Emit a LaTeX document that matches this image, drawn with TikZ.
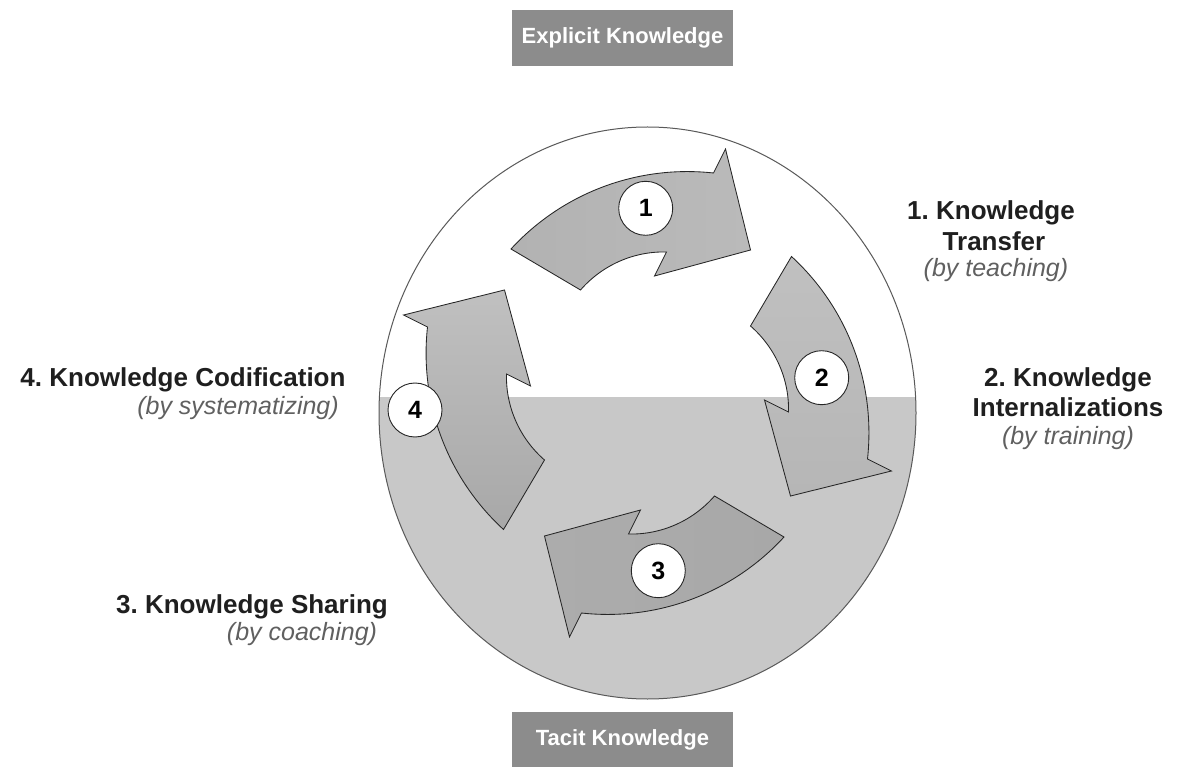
\documentclass[tikz,border=0pt]{standalone}
\usepackage{fontspec}
\setmainfont{Liberation Sans}
\frenchspacing
\definecolor{bggray}{HTML}{C8C8C8}
\definecolor{boxgray}{HTML}{8C8C8C}
\definecolor{subgray}{HTML}{606060}
\newcommand\cyclearrow[2]{%
  \begin{scope}[shift={(647.5,393)}, rotate=#1]
    \path[arrowshape, #2] (-136.5,-144) .. controls (-84.9,-200.2) and (-9.9,-228.3) .. (66,-220)
      -- (78,-244) -- (103,-143) -- (7,-117) -- (19,-141)
      .. controls (-13.9,-141.9) and (-45.4,-127.8) .. (-67,-103) -- cycle;
  \end{scope}}
\tikzset{
  arrowshape/.style={draw=black!85, line width=0.85pt, line join=miter},
  numcirc/.style={circle, draw=black!85, line width=0.9pt, fill=white,
    minimum size=54pt, inner sep=0pt, font=\bfseries\fontsize{25}{25}\selectfont},
  ttl/.style={font=\bfseries\fontsize{26}{26}\selectfont, text=black!88, anchor=base},
  sublbl/.style={font=\itshape\fontsize{25}{25}\selectfont, text=subgray, anchor=base},
  kbox/.style={fill=boxgray, text=white, font=\bfseries\fontsize{22}{22}\selectfont,
    minimum width=221pt, inner sep=0pt}
}
\begin{document}
\begin{tikzpicture}[x=1pt,y=-1pt]
\useasboundingbox (0,0) rectangle (1195,767);
\fill[white] (0,0) rectangle (1195,767);

% big circle with grey lower half
\begin{scope}
  \clip (647.5,413) ellipse [x radius=268.5, y radius=286];
  \fill[bggray] (370,397) rectangle (930,710);
\end{scope}
\draw[black!65, line width=1pt] (647.5,413) ellipse [x radius=268.5, y radius=286];

% four curved arrows
\cyclearrow{0}{left color={rgb,255:red,178;green,178;blue,178}, middle color={rgb,255:red,214;green,214;blue,214}, right color={rgb,255:red,186;green,186;blue,186}}
\cyclearrow{-90}{top color={rgb,255:red,192;green,192;blue,192}, middle color={rgb,255:red,212;green,212;blue,212}, bottom color={rgb,255:red,182;green,182;blue,182}}
\cyclearrow{-180}{left color={rgb,255:red,172;green,172;blue,172}, middle color={rgb,255:red,208;green,208;blue,208}, right color={rgb,255:red,168;green,168;blue,168}}
\cyclearrow{90}{top color={rgb,255:red,192;green,192;blue,192}, middle color={rgb,255:red,214;green,214;blue,214}, bottom color={rgb,255:red,168;green,168;blue,168}}

% number circles
\node[numcirc] (n1) at (645.7,208.3) {1};
\node[numcirc] (n2) at (821.7,377.7) {2};
\node[numcirc] (n3) at (658.3,570.7) {3};
\node[numcirc] (n4) at (415,410) {4};

% boxes
\node[kbox, minimum height=56pt] (explicit) at (622.5,38) {Explicit Knowledge};
\node[kbox, minimum height=55pt] (tacit) at (622.5,739.5) {Tacit Knowledge};

% labels
\node[ttl] (l1a) at (991,220) {1. Knowledge};
\node[ttl] (l1b) at (994,251) {Transfer};
\node[sublbl] (l1c) at (996,277) {(by teaching)};

\node[ttl] (l2a) at (1068,387) {2. Knowledge};
\node[ttl] (l2b) at (1068,417) {Internalizations};
\node[sublbl] (l2c) at (1068,444) {(by training)};

\node[ttl] (l4a) at (183,387) {4. Knowledge Codification};
\node[sublbl] (l4b) at (238,414) {(by systematizing)};

\node[ttl] (l3a) at (252,613) {3. Knowledge Sharing};
\node[sublbl] (l3b) at (302,640) {(by coaching)};
\end{tikzpicture}
\end{document}
